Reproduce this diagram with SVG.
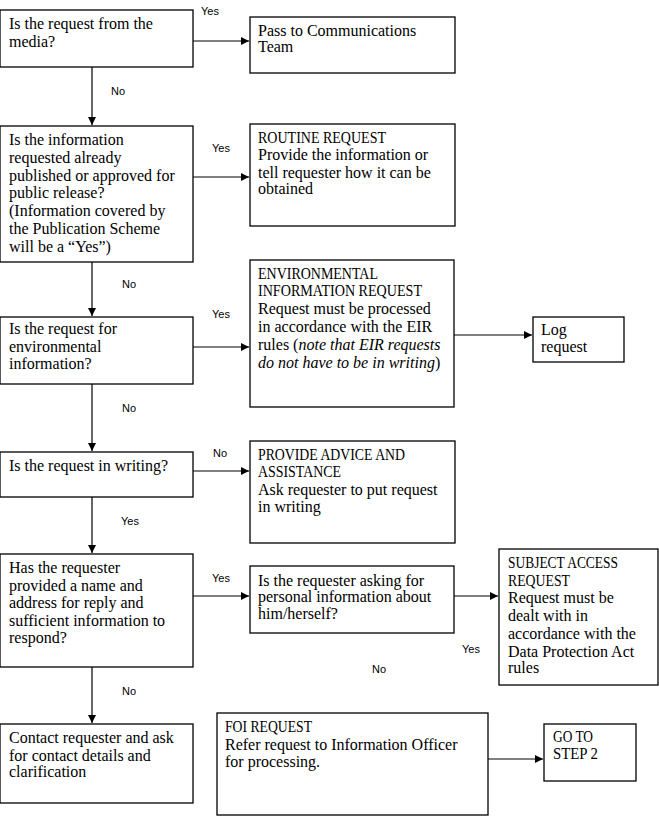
<svg xmlns="http://www.w3.org/2000/svg" width="659" height="817" viewBox="0 0 659 817">
<defs>
<style>
.b{fill:#fff;stroke:#000;stroke-width:1.3}
.t{font-family:"Liberation Serif","Times New Roman",serif;font-size:16px;fill:#000}
.l{font-family:"Liberation Sans",Arial,sans-serif;font-size:11px;fill:#000}
.c{stroke:#000;stroke-width:1.2;fill:none;marker-end:url(#a)}
</style>
<marker id="a" viewBox="0 0 10 10" refX="10" refY="5" markerWidth="8" markerHeight="8" markerUnits="userSpaceOnUse" orient="auto"><path d="M0,0 L10,5 L0,10 z" fill="#000"/></marker>
</defs>
<rect width="659" height="817" fill="#fff"/>
<g id="connectors">
<path class="c" d="M193,41 H249"/>
<path class="c" d="M92,67 V125"/>
<path class="c" d="M193,177 H249"/>
<path class="c" d="M92,262 V316"/>
<path class="c" d="M193,347 H249"/>
<path class="c" d="M454,335 H532"/>
<path class="c" d="M92,384 V451"/>
<path class="c" d="M193,471 H249"/>
<path class="c" d="M92,497 V553"/>
<path class="c" d="M193,596 H249"/>
<path class="c" d="M454,596 H498"/>
<path class="c" d="M92,667 V723"/>
<path class="c" d="M488,759 H543"/>
<text class="l" x="201" y="15">Yes</text>
<text class="l" x="111" y="95">No</text>
<text class="l" x="212" y="152">Yes</text>
<text class="l" x="122" y="288">No</text>
<text class="l" x="212" y="318">Yes</text>
<text class="l" x="122" y="412">No</text>
<text class="l" x="213" y="457">No</text>
<text class="l" x="121" y="525">Yes</text>
<text class="l" x="212" y="582">Yes</text>
<text class="l" x="462" y="653">Yes</text>
<text class="l" x="372" y="673">No</text>
<text class="l" x="122" y="695">No</text>
</g>
<g id="n1"><rect class="b" x="0" y="10" width="193" height="57"/>
<text class="t" x="9" y="29">Is the request from the</text><text class="t" x="9" y="47">media?</text></g>
<g id="n2"><rect class="b" x="250" y="17" width="205" height="56"/>
<text class="t" x="258" y="36">Pass to Communications</text><text class="t" x="258" y="52">Team</text></g>
<g id="n3"><rect class="b" x="0" y="126" width="193" height="136"/>
<text class="t" x="9" y="145">Is the information</text>
<text class="t" x="9" y="163">requested already</text>
<text class="t" x="9" y="181">published or approved for</text>
<text class="t" x="9" y="198">public release?</text>
<text class="t" x="9" y="216">(Information covered by</text>
<text class="t" x="9" y="234">the Publication Scheme</text>
<text class="t" x="9" y="252">will be a “Yes”)</text></g>
<g id="n4"><rect class="b" x="250" y="124" width="205" height="102"/>
<text class="t" x="258" y="143" textLength="128" lengthAdjust="spacingAndGlyphs">ROUTINE REQUEST</text>
<text class="t" x="258" y="160">Provide the information or</text>
<text class="t" x="258" y="178">tell requester how it can be</text>
<text class="t" x="258" y="194">obtained</text></g>
<g id="n5"><rect class="b" x="0" y="317" width="193" height="67"/>
<text class="t" x="9" y="334">Is the request for</text>
<text class="t" x="9" y="352">environmental</text>
<text class="t" x="9" y="369">information?</text></g>
<g id="n6"><rect class="b" x="250" y="260" width="204" height="147"/>
<text class="t" x="258" y="279" textLength="120" lengthAdjust="spacingAndGlyphs">ENVIRONMENTAL</text>
<text class="t" x="258" y="296" textLength="164" lengthAdjust="spacingAndGlyphs">INFORMATION REQUEST</text>
<text class="t" x="258" y="314">Request must be processed</text>
<text class="t" x="258" y="332">in accordance with the EIR</text>
<text class="t" x="258" y="350">rules (<tspan font-style="italic">note that EIR requests</tspan></text>
<text class="t" x="258" y="368"><tspan font-style="italic">do not have to be in writing</tspan>)</text></g>
<g id="n7"><rect class="b" x="533" y="317" width="91" height="45"/>
<text class="t" x="541" y="335">Log</text><text class="t" x="541" y="352">request</text></g>
<g id="n8"><rect class="b" x="0" y="452" width="193" height="45"/>
<text class="t" x="9" y="471">Is the request in writing?</text></g>
<g id="n9"><rect class="b" x="250" y="441" width="205" height="102"/>
<text class="t" x="258" y="460" textLength="147" lengthAdjust="spacingAndGlyphs">PROVIDE ADVICE AND</text>
<text class="t" x="258" y="477" textLength="83" lengthAdjust="spacingAndGlyphs">ASSISTANCE</text>
<text class="t" x="258" y="495">Ask requester to put request</text>
<text class="t" x="258" y="512">in writing</text></g>
<g id="n10"><rect class="b" x="0" y="554" width="193" height="113"/>
<text class="t" x="9" y="573">Has the requester</text>
<text class="t" x="9" y="591">provided a name and</text>
<text class="t" x="9" y="608">address for reply and</text>
<text class="t" x="9" y="626">sufficient information to</text>
<text class="t" x="9" y="643">respond?</text></g>
<g id="n11"><rect class="b" x="250" y="566" width="204" height="67"/>
<text class="t" x="258" y="586">Is the requester asking for</text>
<text class="t" x="258" y="602">personal information about</text>
<text class="t" x="258" y="619">him/herself?</text></g>
<g id="n12"><rect class="b" x="499" y="549" width="159" height="136"/>
<text class="t" x="508" y="568" textLength="110" lengthAdjust="spacingAndGlyphs">SUBJECT ACCESS</text>
<text class="t" x="508" y="586" textLength="62" lengthAdjust="spacingAndGlyphs">REQUEST</text>
<text class="t" x="508" y="603">Request must be</text>
<text class="t" x="508" y="621">dealt with in</text>
<text class="t" x="508" y="639">accordance with the</text>
<text class="t" x="508" y="657">Data Protection Act</text>
<text class="t" x="508" y="673">rules</text></g>
<g id="n13"><rect class="b" x="0" y="724" width="193" height="79"/>
<text class="t" x="9" y="743">Contact requester and ask</text>
<text class="t" x="9" y="761">for contact details and</text>
<text class="t" x="9" y="777">clarification</text></g>
<g id="n14"><rect class="b" x="217" y="713" width="271" height="102"/>
<text class="t" x="225" y="732" textLength="87" lengthAdjust="spacingAndGlyphs">FOI REQUEST</text>
<text class="t" x="225" y="750">Refer request to Information Officer</text>
<text class="t" x="225" y="767">for processing.</text></g>
<g id="n15"><rect class="b" x="544" y="724" width="92" height="57"/>
<text class="t" x="553" y="742" textLength="40" lengthAdjust="spacingAndGlyphs">GO TO</text>
<text class="t" x="553" y="759" textLength="45" lengthAdjust="spacingAndGlyphs">STEP 2</text></g>
</svg>
